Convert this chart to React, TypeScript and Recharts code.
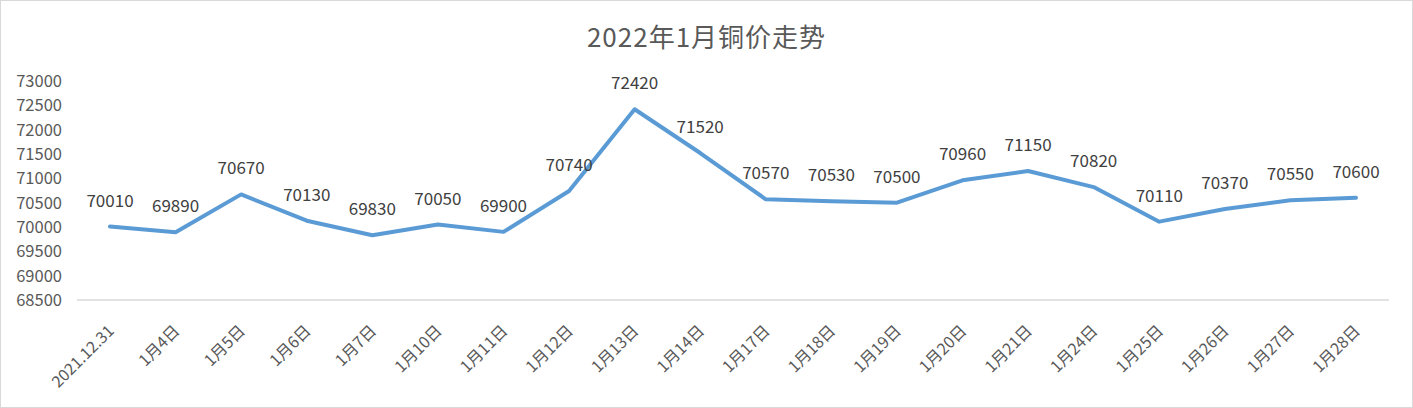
import { LineChart, Line, XAxis, YAxis, LabelList } from 'recharts'

const dates = [
  '2021.12.31', '1月4日', '1月5日', '1月6日', '1月7日', '1月10日', '1月11日', '1月12日', '1月13日', '1月14日',
  '1月17日', '1月18日', '1月19日', '1月20日', '1月21日', '1月24日', '1月25日', '1月26日', '1月27日', '1月28日',
]
const prices = [
  70010, 69890, 70670, 70130, 69830, 70050, 69900, 70740, 72420, 71520,
  70570, 70530, 70500, 70960, 71150, 70820, 70110, 70370, 70550, 70600,
]
const yTicks = [68500, 69000, 69500, 70000, 70500, 71000, 71500, 72000, 72500, 73000]

const data = dates.map((d, i) => ({ date: d, price: prices[i] }))

const FONT = '"Noto Sans CJK SC", "Noto Sans", sans-serif'

// rotated category label, right end sits just below-right of the category centre
const DateTick = ({ x, y, payload }: any) => (
  <text
    x={x + 5}
    y={y + 32}
    transform={`rotate(-45, ${x + 5}, ${y + 32})`}
    textAnchor="end"
    fontSize={16}
    fontFamily={FONT}
    fill="#595959"
  >
    {payload.value}
  </text>
)

export default function App() {
  return (
    <div style={{ position: 'fixed', left: 0, top: 0, width: 1413, height: 408, background: '#fff', boxSizing: 'border-box', border: '1px solid #d9d9d9' }}>
      <div style={{ position: 'absolute', left: 0, right: 0, top: 16, textAlign: 'center', fontFamily: FONT, fontSize: 26, color: '#595959', letterSpacing: 1 }}>
        2022年1月铜价走势
      </div>
      <div style={{ position: 'absolute', left: -1, top: -1 }}>
        <LineChart width={1413} height={408} data={data} margin={{ top: 81, right: 24, bottom: 0, left: 0 }}>
          <XAxis
            dataKey="date"
            interval={0}
            padding={{ left: 33, right: 33 }}
            axisLine={{ stroke: '#d9d9d9', strokeWidth: 1.5 }}
            tickLine={false}
            tickSize={0}
            tickMargin={0}
            tick={<DateTick />}
            height={108}
          />
          <YAxis
            width={77}
            domain={[68500, 73000]}
            ticks={yTicks}
            interval={0}
            axisLine={false}
            tickLine={false}
            tickSize={0}
            tickMargin={15}
            tick={{ fontSize: 16.5, fill: '#595959', fontFamily: FONT }}
          />
          <Line
            type="linear"
            dataKey="price"
            stroke="#5b9bd5"
            strokeWidth={4}
            strokeLinejoin="round"
            strokeLinecap="round"
            dot={false}
            isAnimationActive={false}
          >
            <LabelList dataKey="price" position="top" offset={20} fontSize={17} fill="#404040" fontFamily={FONT} />
          </Line>
        </LineChart>
      </div>
    </div>
  )
}
